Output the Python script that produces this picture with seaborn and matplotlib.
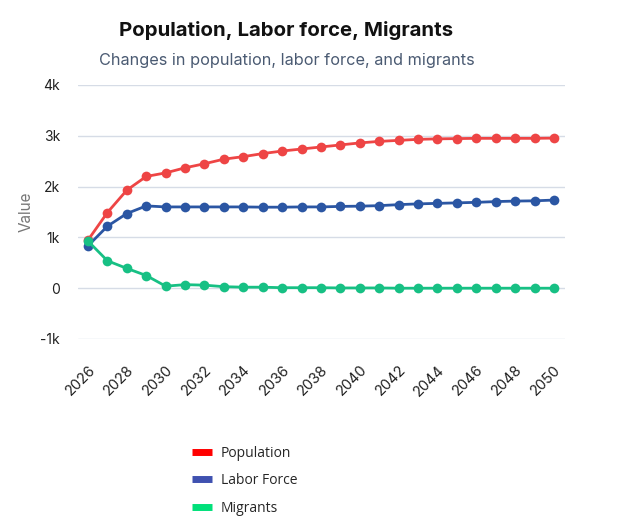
import matplotlib
matplotlib.use("Agg")
import matplotlib.pyplot as plt
from matplotlib.lines import Line2D
from matplotlib.ticker import FuncFormatter
import pandas as pd
import seaborn as sns

# === DATA ===
years = list(range(2026, 2051))
population = [947, 1490, 1930, 2200, 2270, 2370, 2450, 2540, 2590, 2650, 2700, 2740,
              2780, 2820, 2860, 2890, 2910, 2930, 2940, 2945, 2950, 2950, 2950, 2950, 2955]
labor_force = [834, 1220, 1470, 1620, 1600, 1600, 1600, 1600, 1600, 1595, 1595, 1600,
               1600, 1610, 1615, 1625, 1645, 1660, 1670, 1680, 1690, 1705, 1715, 1720, 1735]
migrants = [927, 540, 390, 250, 40, 70, 60, 30, 20, 20, 10, 10,
            10, 5, 5, 5, 0, 0, 0, 0, 0, 0, 0, 0, 0]
series_names = ["Population", "Labor Force", "Migrants"]

line_colors = ["#ee4545", "#2b56a3", "#17c084"]
legend_colors = ["#ff0000", "#3f51b0", "#00e07a"]

df = pd.DataFrame({"Year": years * 3,
                   "Value": population + labor_force + migrants,
                   "Series": [s for s in series_names for _ in years]})

# === PLOT ===
sns.set_style("white")
plt.rcParams["font.family"] = ["Inter", "DejaVu Sans"]

fig = plt.figure(figsize=(6.31, 5.17), dpi=100)
ax = fig.add_axes([78 / 631, 1 - 339 / 517, 487 / 631, 254 / 517])

sns.lineplot(data=df, x="Year", y="Value", hue="Series", palette=line_colors,
             marker="o", markersize=7, markeredgewidth=0, linewidth=2,
             ax=ax, legend=False)

ax.set_xlim(2025.485, 2050.57)
ax.set_ylim(-1000, 4000)
ax.set_yticks([-1000, 0, 1000, 2000, 3000, 4000])
ax.yaxis.set_major_formatter(FuncFormatter(lambda v, _: "0" if v == 0 else f"{int(v / 1000)}k"))
ax.set_xticks(list(range(2026, 2051, 2)))
ax.tick_params(axis="both", length=0, labelsize=10, colors="#222222")
ax.tick_params(axis="x", labelsize=10.5, pad=17)
ax.tick_params(axis="y", pad=13)
plt.setp(ax.get_xticklabels(), rotation=45, ha="right", rotation_mode="anchor")
ax.grid(axis="y", color="#d6dce6", linewidth=1)
ax.set_axisbelow(True)
for sp in ax.spines.values():
    sp.set_visible(False)
ax.set_xlabel("")
ax.set_ylabel("Value", color="#777777", fontsize=11, labelpad=5)

fig.text(286 / 631, 1 - 31 / 517, "Population, Labor force, Migrants",
         ha="center", va="center", fontsize=14.7, fontweight="bold", color="#111111")
fig.text(287 / 631, 1 - 61 / 517, "Changes in population, labor force, and migrants",
         ha="center", va="center", fontsize=11.7, color="#4a5a72")

handles = [Line2D([0], [0], color=c, lw=5, solid_capstyle="butt") for c in legend_colors]
fig.legend(handles, series_names, loc="upper left", bbox_to_anchor=(186 / 631, 1 - 440 / 517),
           frameon=False, handlelength=1.5, handletextpad=0.6, borderaxespad=0,
           labelspacing=0.9, prop={"family": ["Open Sans", "DejaVu Sans"], "size": 10})

fig.savefig("out.png", dpi=100)
